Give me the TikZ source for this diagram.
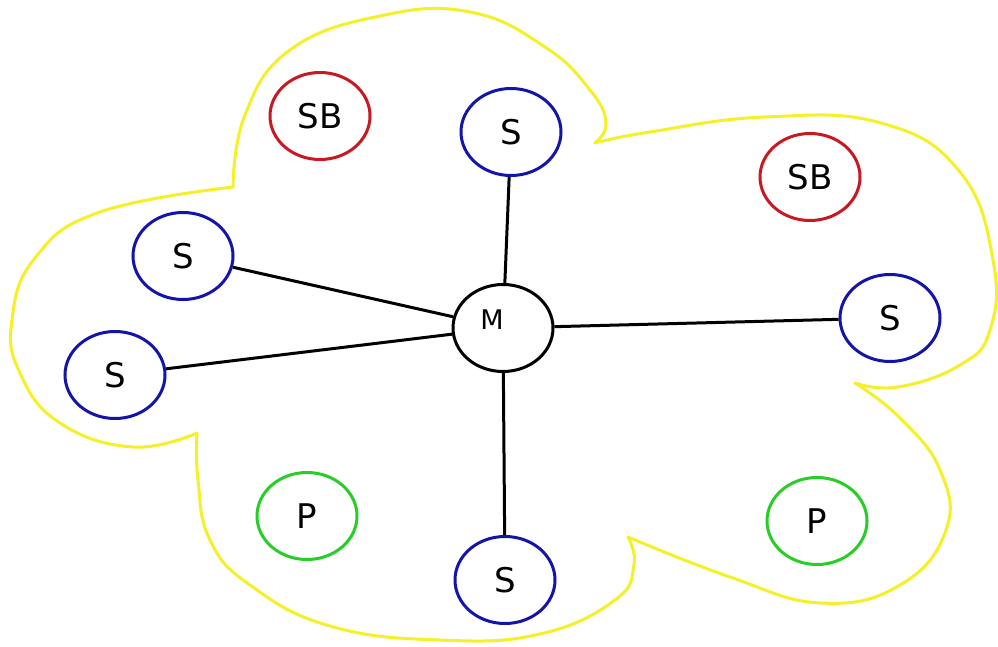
\documentclass[tikz,border=0pt]{standalone}
\usepackage{fontspec}
\setmainfont{DejaVu Sans}
\usetikzlibrary{shapes.geometric}
\definecolor{cloudyellow}{RGB}{245,240,40}
\definecolor{sblue}{RGB}{20,20,170}
\definecolor{sbred}{RGB}{200,25,35}
\definecolor{pgreen}{RGB}{40,205,40}
\tikzset{
  bub/.style={ellipse, draw, line width=3pt, minimum width=100pt, minimum height=87pt, inner sep=0pt, font=\fontsize{34}{40}\selectfont},
  sbub/.style={bub, draw=sblue},
  sbbub/.style={bub, draw=sbred},
  pbub/.style={bub, draw=pgreen},
  mbub/.style={bub, draw=black},
  link/.style={line width=3pt, black},
  cloud/.style={draw=cloudyellow, line width=3pt, line join=round}
}
\begin{document}
\begin{tikzpicture}[x=1pt, y=-1pt]
\useasboundingbox (0,0) rectangle (998,647);
\fill[white] (0,0) rectangle (998,647);
% cloud outline
\draw[cloud]
 plot[smooth, tension=0.75] coordinates {(233,187) (245,115) (290,50) (380,16) (470,12) (545,47) (590,90) (606,123) (595,143)}
 -- plot[smooth, tension=0.75] coordinates {(595,143) (650,132) (765,117) (881,123) (960,172) (993,260) (990,330) (960,365) (898,387) (855,383)}
 -- plot[smooth, tension=0.75] coordinates {(855,383) (900,418) (940,470) (946,530) (900,585) (821,603) (730,577) (628,537)}
 -- plot[smooth, tension=0.75] coordinates {(628,537) (634,565) (615,600) (540,634) (440,640) (330,626) (250,585) (210,540) (198,480) (197,433)}
 -- plot[smooth, tension=0.75] coordinates {(197,433) (133,447) (60,423) (20,373) (12,320) (35,258) (100,212) (233,187)}
 -- cycle;
% nodes
\node[sbbub] (sb1) at (320,116) {SB};
\node[sbbub] (sb2) at (810,177) {SB};
\node[sbub] (st) at (511,132) {S};
\node[sbub] (sl1) at (183,256) {S};
\node[sbub] (sl2) at (115,375) {S};
\node[sbub] (sr) at (890,318) {S};
\node[sbub] (sbot) at (505,580) {S};
\node[pbub] (p1) at (307,516) {P};
\node[pbub] (p2) at (817,521) {P};
\node[mbub, label={[font=\fontsize{27}{30}\selectfont, xshift=-11pt, yshift=8pt]center:M}] (m) at (503,328) {};
% links
\draw[link] (m) -- (st);
\draw[link] (m) -- (sl1);
\draw[link] (m) -- (sl2);
\draw[link] (m) -- (sr);
\draw[link] (m) -- (sbot);
\end{tikzpicture}
\end{document}
